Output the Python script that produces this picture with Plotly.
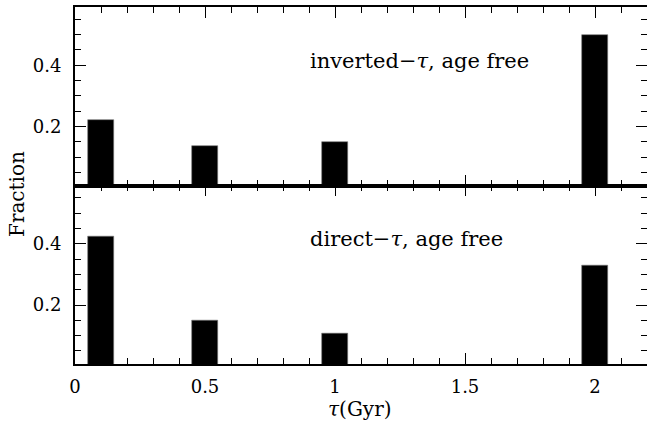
import plotly.graph_objects as go
from plotly.subplots import make_subplots

tau_bins = [0.1, 0.5, 1.0, 2.0]
bin_width = 0.1
frac_inverted = [0.222, 0.138, 0.148, 0.498]
frac_direct = [0.422, 0.149, 0.107, 0.330]
label_top = "inverted\u2212<i>\u03c4</i>, age free"
label_bottom = "direct\u2212<i>\u03c4</i>, age free"
x_title = "<i>\u03c4</i>(Gyr)"
y_title = "Fraction"

FONT = "DejaVu Serif"

fig = make_subplots(rows=2, cols=1, shared_xaxes=True, vertical_spacing=0)

for row, vals in ((1, frac_inverted), (2, frac_direct)):
    fig.add_trace(go.Bar(x=tau_bins, y=vals, width=bin_width,
                         marker=dict(color="black", line=dict(width=0.6, color="#777")),
                         showlegend=False), row=row, col=1)

axis_common = dict(showline=True, linecolor="black", linewidth=1.8, mirror="allticks",
                   ticks="inside", tickcolor="black", tickwidth=1.3, showgrid=False,
                   zeroline=False, automargin=False,
                   tickfont=dict(family=FONT, size=18, color="black"))

for r in (1, 2):
    fig.update_xaxes(range=[0, 2.2], dtick=0.5, tick0=0, ticklen=11,
                     minor=dict(dtick=0.1, ticklen=6, ticks="inside", tickcolor="black", tickwidth=1.2, showgrid=False),
                     showticklabels=(r == 2), ticklabelstandoff=5, row=r, col=1, **axis_common)
    fig.update_yaxes(range=[0.0075, 0.59], dtick=0.2, tick0=0, ticklen=11,
                     minor=dict(dtick=0.05, ticklen=6, ticks="inside", tickcolor="black", tickwidth=1.2, showgrid=False),
                     ticklabelstandoff=8, row=r, col=1, **axis_common)

fig.update_layout(yaxis=dict(domain=[0.5, 1]), yaxis2=dict(domain=[0, 0.5]))

fig.add_annotation(x=0.896, y=0.413, xref="x", yref="y", text=label_top, showarrow=False,
                   xanchor="left", yanchor="middle", font=dict(family=FONT, size=21, color="black"))
fig.add_annotation(x=0.896, y=0.416, xref="x2", yref="y2", text=label_bottom, showarrow=False,
                   xanchor="left", yanchor="middle", font=dict(family=FONT, size=21, color="black"))

fig.add_annotation(x=-58 / 572, y=(364 - 194) / 357, xref="paper", yref="paper", text=y_title, showarrow=False,
                   textangle=-90, xanchor="center", yanchor="middle",
                   font=dict(family=FONT, size=20, color="black"))
fig.add_annotation(x=(360 - 75) / 572, y=-45 / 357, xref="paper", yref="paper", text=x_title, showarrow=False,
                   xanchor="center", yanchor="middle", font=dict(family=FONT, size=20, color="black"))

fig.update_layout(width=647, height=429, margin=dict(l=75, r=0, t=7, b=65),
                  plot_bgcolor="white", paper_bgcolor="white", bargap=0)

fig.write_html("out.html", config={"displayModeBar": False},
               post_script="document.body.style.margin='0px';document.body.style.overflow='hidden';")
